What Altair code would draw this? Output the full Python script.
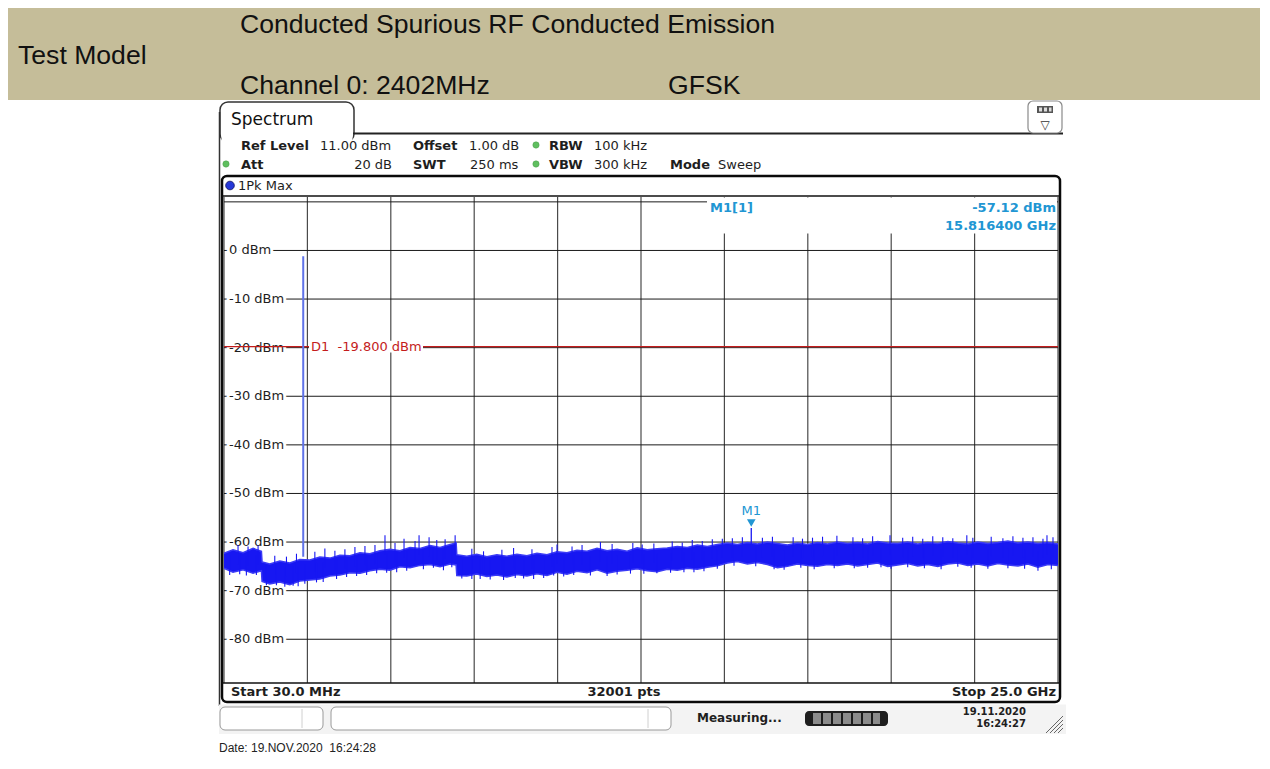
import altair as alt
import pandas as pd

# ------------------------------------------------------------------ data
start_ghz, stop_ghz = 0.03, 25.0
ref_level_dbm, bottom_dbm = 11.0, -89.0

freq_ghz = [0.03, 0.3, 0.6, 0.9, 1.15, 1.17, 1.4, 1.7, 2.0, 2.3,
            2.6, 2.9, 3.2, 3.5, 3.8, 4.1, 4.4, 4.7, 5.0, 5.3,
            5.6, 5.9, 6.2, 6.5, 6.8, 6.98, 7.0, 7.3, 7.6, 7.9,
            8.2, 8.5, 8.8, 9.1, 9.4, 9.7, 10.0, 10.3, 10.6, 10.9,
            11.2, 11.5, 11.8, 12.1, 12.4, 12.7, 13.0, 13.3, 13.6, 13.9,
            14.2, 14.5, 14.8, 15.1, 15.4, 15.7, 16.0, 16.3, 16.6, 16.9,
            17.2, 17.5, 17.8, 18.1, 18.4, 18.7, 19.0, 19.3, 19.6, 19.9,
            20.2, 20.5, 20.8, 21.1, 21.4, 21.7, 22.0, 22.3, 22.6, 22.9,
            23.2, 23.5, 23.8, 24.1, 24.4, 24.7, 25.0]
trace_top_dbm = [-62.3, -61.6, -62.2, -61.3, -61.9, -64.1, -64.5, -63.9, -64.3, -63.6,
                 -63.7, -63.1, -63.3, -62.7, -62.8, -62.2, -62.4, -61.8, -61.5, -61.8,
                 -61.1, -61.3, -60.7, -61.1, -60.5, -60.2, -62.6, -62.9, -62.5, -63.0,
                 -62.6, -62.9, -62.5, -62.8, -62.3, -62.6, -62.0, -62.2, -61.7, -61.9,
                 -61.3, -61.8, -61.5, -61.9, -61.2, -61.6, -61.4, -61.2, -60.9, -61.1,
                 -60.6, -60.9, -60.5, -60.2, -60.5, -60.1, -60.4, -60.0, -60.3, -60.6,
                 -60.2, -60.5, -60.1, -60.4, -60.0, -60.3, -60.1, -60.4, -59.9, -60.2,
                 -60.3, -60.0, -60.4, -60.1, -60.3, -59.9, -60.2, -60.4, -60.0, -60.3,
                 -60.1, -59.8, -60.2, -60.0, -60.3, -60.1, -60.4]
trace_bot_dbm = [-65.4, -66.2, -65.7, -66.4, -65.9, -68.1, -68.6, -68.2, -68.8, -68.0,
                 -67.8, -67.6, -67.0, -66.8, -66.3, -66.4, -65.9, -65.6, -65.8, -65.1,
                 -65.3, -64.8, -64.6, -65.1, -64.5, -64.7, -66.9, -67.0, -66.6, -67.1,
                 -66.8, -67.2, -66.7, -67.0, -66.5, -66.9, -66.2, -66.6, -66.0, -66.3,
                 -65.7, -66.4, -66.0, -65.8, -65.5, -65.9, -66.1, -65.6, -65.8, -65.4,
                 -65.6, -65.2, -64.9, -64.3, -64.0, -64.5, -64.2, -64.6, -65.3, -65.0,
                 -64.5, -64.8, -65.0, -64.6, -64.8, -64.5, -64.9, -64.6, -64.3, -65.0,
                 -64.7, -64.4, -64.9, -64.6, -65.0, -64.5, -64.3, -64.8, -64.5, -64.9,
                 -64.4, -64.7, -64.9, -64.5, -65.2, -64.6, -64.8]

spike_up_f = [0.45, 0.75, 1.05, 1.55, 1.9, 2.2, 2.75, 3.05, 3.35, 3.65,
              3.95, 4.25, 4.55, 4.85, 5.15, 5.42, 5.75, 5.87, 6.17, 6.4,
              6.65, 6.95, 7.45, 7.8, 8.35, 8.7, 9.25, 9.85, 10.0, 10.45,
              10.75, 11.3, 11.65, 12.27, 12.55, 12.9, 13.45, 13.75, 14.05, 14.35,
              14.65, 14.95, 15.25, 15.55, 16.15, 16.45, 17.07, 17.35, 17.65, 17.95,
              18.38, 18.86, 19.15, 19.45, 19.97, 20.35, 20.65, 20.95, 21.25, 21.55,
              21.85, 22.27, 22.45, 23.0, 23.35, 23.65, 23.95, 24.25, 24.55, 24.67, 24.85]
spike_up_dbm = [-60.6, -60.9, -60.7, -62.8, -63.0, -62.4, -62.0, -61.3, -61.8, -61.5,
                -61.0, -60.8, -60.6, -58.6, -60.2, -59.3, -59.8, -58.6, -59.0, -59.6,
                -59.4, -58.6, -61.4, -61.9, -61.6, -61.2, -61.5, -61.0, -60.5, -60.9,
                -60.6, -60.0, -60.4, -60.2, -60.5, -60.3, -59.9, -60.1, -59.6, -59.8,
                -59.4, -59.3, -59.2, -59.0, -59.1, -58.9, -59.0, -59.3, -59.1, -58.9,
                -58.7, -59.0, -59.2, -58.8, -58.6, -59.1, -58.9, -59.3, -58.8, -59.0,
                -59.2, -58.6, -59.1, -58.9, -59.2, -58.8, -59.1, -59.0, -59.3, -58.6, -59.0]
spike_dn_f = [0.2, 0.5, 0.7, 1.0, 1.3, 1.6, 1.85, 2.1, 2.25, 2.45,
              2.8, 3.0, 3.4, 3.7, 4.0, 4.3, 4.6, 4.9, 5.2, 5.5,
              6.0, 6.3, 6.6, 6.85, 7.15, 7.45, 7.7, 8.0, 8.4, 8.75,
              9.0, 9.3, 9.6, 9.9, 10.2, 10.5, 11.0, 11.5, 11.8, 12.2,
              12.6, 12.99, 13.4, 13.8, 14.1, 14.4, 14.8, 15.3, 15.95, 16.5,
              16.8, 17.3, 17.7, 18.3, 18.9, 19.3, 19.7, 20.0, 20.5, 21.0,
              21.5, 22.0, 22.4, 22.9, 23.5, 24.0, 24.4, 24.8]
spike_dn_dbm = [-66.8, -66.6, -66.9, -66.8, -68.9, -68.9, -69.2, -69.0, -69.1, -68.6,
                -68.3, -68.2, -67.6, -67.2, -67.0, -66.8, -66.4, -66.3, -66.2, -65.9,
                -65.6, -65.3, -65.8, -65.2, -67.5, -67.6, -67.6, -67.7, -67.8, -67.4,
                -67.5, -67.6, -67.4, -66.9, -67.1, -66.8, -66.9, -67.0, -66.7, -66.5,
                -66.5, -66.4, -66.3, -66.2, -66.2, -66.0, -65.5, -64.9, -65.0, -65.6,
                -65.7, -65.3, -65.6, -65.4, -65.4, -65.3, -65.2, -65.5, -65.2, -65.4,
                -65.6, -65.1, -65.3, -65.5, -65.4, -65.5, -65.9, -65.6]

carrier_f = [2.402]
carrier_peak_dbm = [-1.2]
carrier_base_dbm = [-63.0]

m1_f = 15.8164
m1_dbm = -57.12
d1_dbm = -19.8

grid_levels = [10, 0, -10, -20, -30, -40, -50, -60, -70, -80]
label_levels = [0, -10, -20, -30, -40, -50, -60, -70, -80]
label_texts = ["0 dBm", "-10 dBm", "-20 dBm", "-30 dBm", "-40 dBm",
               "-50 dBm", "-60 dBm", "-70 dBm", "-80 dBm"]

assert len(freq_ghz) == len(trace_top_dbm) == len(trace_bot_dbm)
assert len(spike_up_f) == len(spike_up_dbm)
assert len(spike_dn_f) == len(spike_dn_dbm)

# ------------------------------------------------------------------ layout
OX, OY = 224, 197           # page position of the diagram's top-left corner
W, H = 834, 486             # diagram area
CW, CH = 1252, 750          # whole canvas
DV = "DejaVu Sans"
LS = "Liberation Sans"
TRACE = "#1717f2"
MARK_BLUE = "#2196d3"

grid_f = [start_ghz + i * (stop_ghz - start_ghz) / 10 for i in range(11)]

xs = alt.Scale(domain=[start_ghz, stop_ghz], nice=False, zero=False)
ys = alt.Scale(domain=[bottom_dbm, ref_level_dbm], nice=False, zero=False)


def X(field):
    return alt.X(field, scale=xs, axis=None)


def Y(field):
    return alt.Y(field, scale=ys, axis=None)


def px_enc():
    return dict(x=alt.X("x:Q", scale=None, axis=None),
                y=alt.Y("y:Q", scale=None, axis=None))


def rects(rows, **mk):
    df = pd.DataFrame([{"x": a - OX, "y": b - OY, "x2": c - OX, "y2": d - OY}
                       for a, b, c, d in rows])
    return alt.Chart(df).mark_rect(**mk).encode(x2="x2:Q", y2="y2:Q", **px_enc())


def rules(rows, **mk):
    df = pd.DataFrame([{"x": a - OX, "y": b - OY, "x2": c - OX, "y2": d - OY}
                       for a, b, c, d in rows])
    return alt.Chart(df).mark_rule(**mk).encode(x2="x2:Q", y2="y2:Q", **px_enc())


def texts(rows, size=13, weight="normal", color="#1e1e1e", align="left", font=DV):
    df = pd.DataFrame([{"t": t, "x": a - OX, "y": b - OY} for t, a, b in rows])
    return alt.Chart(df).mark_text(align=align, baseline="alphabetic", font=font,
                                   fontSize=size, fontWeight=weight, color=color
                                   ).encode(text="t:N", **px_enc())


def dots(rows, **mk):
    df = pd.DataFrame([{"x": a - OX, "y": b - OY} for a, b in rows])
    return alt.Chart(df).mark_point(shape="circle", filled=True, **mk).encode(**px_enc())


layers = []

# grid
layers.append(alt.Chart(pd.DataFrame({"f": grid_f})).mark_rule(
    color="#4a4a4a", strokeWidth=1.2).encode(x=X("f:Q")))
layers.append(alt.Chart(pd.DataFrame({"lvl": grid_levels})).mark_rule(
    color="#1a1a1a", strokeWidth=1).encode(y=Y("lvl:Q")))

# white box behind marker info
layers.append(rects([(707, 197.5, 1057, 233.5)], fill="white", strokeWidth=0))

# level labels
lab_df = pd.DataFrame({"lvl": label_levels, "lab": label_texts})
layers.append(alt.Chart(lab_df).mark_text(
    align="left", baseline="middle", font=DV, fontSize=13, fill="white",
    stroke="white", strokeWidth=6, strokeJoin="round").encode(
    x=alt.value(5), y=Y("lvl:Q"), text="lab:N"))
layers.append(alt.Chart(lab_df).mark_text(
    align="left", baseline="middle", font=DV, fontSize=13, color="#1e1e1e").encode(
    x=alt.value(5), y=Y("lvl:Q"), text="lab:N"))

# D1 display line with its label on a white background
d1_df = pd.DataFrame({"lvl": [d1_dbm], "lab": ["D1\u00a0\u00a0%.3f dBm" % d1_dbm]})
layers.append(alt.Chart(d1_df).mark_rule(color="#c41c1c", strokeWidth=1.3).encode(y=Y("lvl:Q")))
layers.append(alt.Chart(d1_df).transform_calculate(
    hi="datum.lvl + 1.2", lo="datum.lvl - 1.2").mark_rect(fill="white").encode(
    x=alt.value(309 - OX), x2=alt.value(423 - OX), y=Y("hi:Q"), y2="lo:Q"))
layers.append(alt.Chart(d1_df).mark_text(
    align="left", baseline="middle", font=DV, fontSize=13, color="#c41c1c").encode(
    x=alt.value(311 - OX), y=Y("lvl:Q"), text="lab:N"))

# trace
trace_df = pd.DataFrame({"f": freq_ghz, "top": trace_top_dbm, "bot": trace_bot_dbm})
layers.append(alt.Chart(trace_df).mark_area(color=TRACE, opacity=1).encode(
    x=X("f:Q"), y=Y("top:Q"), y2="bot:Q"))
layers.append(alt.Chart(trace_df).mark_line(color="#3a3af6", strokeWidth=1.5).encode(
    x=X("f:Q"), y=Y("top:Q")))
layers.append(alt.Chart(trace_df).mark_line(color="#3a3af6", strokeWidth=1.5).encode(
    x=X("f:Q"), y=Y("bot:Q")))
up_df = pd.DataFrame({"f": spike_up_f, "peak": spike_up_dbm})
layers.append(alt.Chart(up_df).transform_calculate(base="datum.peak - 4").mark_rule(
    color=TRACE, strokeWidth=1.1).encode(x=X("f:Q"), y=Y("peak:Q"), y2="base:Q"))
dn_df = pd.DataFrame({"f": spike_dn_f, "low": spike_dn_dbm})
layers.append(alt.Chart(dn_df).transform_calculate(top="datum.low + 4").mark_rule(
    color=TRACE, strokeWidth=1.1).encode(x=X("f:Q"), y=Y("low:Q"), y2="top:Q"))
car_df = pd.DataFrame({"f": carrier_f, "peak": carrier_peak_dbm, "base": carrier_base_dbm})
layers.append(alt.Chart(car_df).mark_rule(color="#5f72e8", strokeWidth=2).encode(
    x=X("f:Q"), y=Y("peak:Q"), y2="base:Q"))
m1_df = pd.DataFrame({"f": [m1_f], "lvl": [m1_dbm], "base": [m1_dbm - 3.5], "lab": ["M1"]})
layers.append(alt.Chart(m1_df).mark_rule(color=TRACE, strokeWidth=1.3).encode(
    x=X("f:Q"), y=Y("lvl:Q"), y2="base:Q"))

# marker
layers.append(alt.Chart(m1_df).mark_point(shape="triangle-down", filled=True, size=75,
                                          color=MARK_BLUE, opacity=1, yOffset=-5).encode(
    x=X("f:Q"), y=Y("lvl:Q")))
layers.append(alt.Chart(m1_df).mark_text(font=DV, fontSize=13, color=MARK_BLUE,
                                         baseline="middle", dy=-17).encode(
    x=X("f:Q"), y=Y("lvl:Q"), text="lab:N"))

# ---------------------------------------------------------- decorations
# header band
layers.append(rects([(8, 8, 1260, 100)], fill="#c5bd99", strokeWidth=0))
layers.append(texts([("Test Model", 18, 64),
                     ("Conducted Spurious RF Conducted Emission", 240, 33),
                     ("Channel 0: 2402MHz", 240, 94),
                     ("GFSK", 668, 94)], size=26.6, font=LS, color="#111111"))

# spectrum tab + window
layers.append(rects([(220, 102, 354, 142)], fill="white", stroke="#333333",
                    strokeWidth=1.5, cornerRadius=8))
layers.append(rects([(221.5, 134.5, 352.5, 146)], fill="white", strokeWidth=0))
layers.append(rules([(219.5, 112, 219.5, 706)], color="#333333", strokeWidth=1.5))
layers.append(rules([(353, 133.5, 1063, 133.5)], color="#222222", strokeWidth=2))
layers.append(rects([(1028, 101, 1062, 133)], fill="white", stroke="#8a8a8a",
                    strokeWidth=1.2, cornerRadius=5))
layers.append(rects([(1037, 106, 1053, 113)], fill="#555555", strokeWidth=0))
layers.append(rects([(1039, 107.5, 1042, 111.5), (1044, 107.5, 1047, 111.5),
                     (1049, 107.5, 1051.5, 111.5)], fill="#dddddd", strokeWidth=0))
layers.append(texts([("\u25bd", 1045, 129)], size=12, align="center", color="#333333"))
layers.append(texts([("Spectrum", 231, 125)], size=17, color="#111111"))

# setting rows
layers.append(texts([("Ref Level", 241, 150), ("Offset", 413, 150), ("RBW", 549, 150),
                     ("Att", 241, 169), ("SWT", 413, 169), ("VBW", 549, 169),
                     ("Mode", 670, 169)], weight="bold"))
layers.append(texts([("11.00 dBm", 320, 150), ("1.00 dB", 469, 150), ("100 kHz", 594, 150),
                     ("250 ms", 470, 169), ("300 kHz", 594, 169), ("Sweep", 718, 169)]))
layers.append(texts([("20 dB", 392, 169)], align="right"))
layers.append(dots([(536, 145), (226, 164), (536, 164)], size=40, fill="#5fbf5f",
                   stroke="#4a9a4a", strokeWidth=0.5, opacity=1))

# diagram frame
layers.append(rects([(222, 176, 1060, 702)], fillOpacity=0, stroke="#0a0a0a",
                    strokeWidth=2.5, cornerRadius=5))
layers.append(rules([(222, 196, 1060, 196), (222, 683, 1060, 683)],
                    color="#111111", strokeWidth=1.5))
layers.append(dots([(230, 185.5)], size=75, fill="#2638d8", stroke="#101060",
                   strokeWidth=0.8, opacity=1))
layers.append(texts([("1Pk Max", 238, 190)]))

# marker info
layers.append(texts([("M1[1]", 710, 212)], weight="bold", color=MARK_BLUE))
layers.append(texts([("%.2f dBm" % m1_dbm, 1056, 212), ("%.6f GHz" % m1_f, 1056, 230)],
                    weight="bold", color=MARK_BLUE, align="right"))

# bottom row
layers.append(texts([("Start %.1f MHz" % (start_ghz * 1000), 231, 696)], weight="bold"))
layers.append(texts([("32001 pts", 624, 696)], weight="bold", align="center"))
layers.append(texts([("Stop %.1f GHz" % stop_ghz, 1056, 696)], weight="bold", align="right"))

# status bar
layers.append(rects([(219, 704.5, 1066, 734)], fill="#f3f3f3", strokeWidth=0))
layers.append(rects([(220, 707, 323, 730), (331, 707, 671, 730)], fill="white",
                    stroke="#9a9a9a", strokeWidth=1, cornerRadius=5))
layers.append(rules([(302, 709, 302, 728), (648, 709, 648, 728)], color="#d0d0d0", strokeWidth=1))
layers.append(texts([("Measuring...", 697, 722)], size=12, weight="bold"))
layers.append(rects([(805, 711, 888, 726)], fill="#1e1e1e", strokeWidth=0, cornerRadius=4))
layers.append(rects([(813, 713, 821, 724), (823, 713, 831, 724), (833, 713, 841, 724),
                     (843, 713, 851, 724), (853, 713, 861, 724), (863, 713, 871, 724),
                     (873, 713, 880, 724)], fill="#8c8c8c", strokeWidth=0))
layers.append(texts([("19.11.2020", 1026, 715), ("16:24:27", 1026, 727)],
                    size=10, weight="bold", align="right"))
layers.append(rules([(1046, 733, 1063, 716), (1050, 733, 1063, 720),
                     (1054, 733, 1063, 724), (1058, 733, 1063, 728)],
                    color="#666666", strokeWidth=1))

# date line
layers.append(texts([("Date: 19.NOV.2020\u00a0 16:24:28", 219, 752)], size=12, font=LS,
                    color="#222222"))

chart = alt.layer(*layers).properties(
    width=W, height=H,
    padding={"left": OX - 8, "top": OY - 8, "right": CW - (OX - 8) - W,
             "bottom": CH - (OY - 8) - H},
    autosize=alt.AutoSizeParams(type="none"),
).configure_view(stroke=None)

chart.save("out.html", embed_options={"renderer": "svg", "actions": False})
